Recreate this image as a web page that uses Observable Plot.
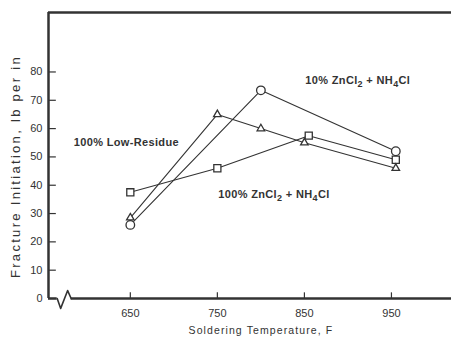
<!DOCTYPE html>
<html>
<head>
<meta charset="utf-8">
<script src="https://cdn.jsdelivr.net/npm/d3@7"></script>
<script src="https://cdn.jsdelivr.net/npm/@observablehq/plot@0.6"></script>
<style>
  body { margin: 0; background: #fff; }
  svg { font-family: "Liberation Sans", Arial, sans-serif; }
</style>
</head>
<body>
<div id="chart"></div>
<script>
// Series data (Soldering temperature F, fracture initiation lb per in)
const zn10Temp = [650, 800, 955];
const zn10Val = [26, 73.5, 52];
const zn100Temp = [650, 750, 855, 955];
const zn100Val = [37.5, 46, 57.5, 49];
const lowResTemp = [650, 750, 800, 850, 955];
const lowResVal = [28.5, 65, 60, 55, 46];

const xTicks = [650, 750, 850, 950];
const yTicks = [0, 10, 20, 30, 40, 50, 60, 70, 80];

const seriesLabels = ["10% ZnCl₂ + NH₄Cl", "100% Low-Residue", "100% ZnCl₂ + NH₄Cl"];
const labelX = [851, 585, 751];
const labelY = [77, 55, 36.7];

const xTitle = "Soldering Temperature, F";
const yTitle = "Fracture Initiation, lb per in";

const toRows = (t, v) => t.map((x, i) => ({x, y: v[i]}));
const zn10 = toRows(zn10Temp, zn10Val);
const zn100 = toRows(zn100Temp, zn100Val);
const lowRes = toRows(lowResTemp, lowResVal);
const labels = seriesLabels.map((s, i) => ({s, x: labelX[i], y: labelY[i]}));

const xDomain = [556, 1019];
const yDomain = [0, 101];
// axis break squiggle in data units
const breakPath = [{x: 566, y: 0}, {x: 570, y: -3.5}, {x: 578, y: 2.8}, {x: 582, y: 0}];

const ink = "#333";
const chart = Plot.plot({
  width: 451,
  height: 339,
  marginLeft: 48,
  marginRight: 0,
  marginTop: 12,
  marginBottom: 41,
  x: {domain: xDomain, ticks: xTicks},
  y: {domain: yDomain, ticks: yTicks},
  style: {fontSize: "11px", color: ink, background: "#fff"},
  marks: [
    Plot.axisY({ticks: yTicks, tickSize: 0, tickPadding: 6, label: null, fontSize: 11}),
    Plot.axisX({ticks: xTicks, tickSize: 0, tickPadding: 11, label: null, fontSize: 11}),
    // inward ticks
    Plot.ruleY(yTicks, {x1: xDomain[0], x2: xDomain[0] + 9, stroke: ink, strokeWidth: 1.2}),
    Plot.ruleX(xTicks, {y1: 0, y2: 2, stroke: ink, strokeWidth: 1.2}),
    // frame
    Plot.ruleY([yDomain[1]], {stroke: ink, strokeWidth: 2.5}),
    Plot.ruleX([xDomain[0]], {y1: 0, y2: yDomain[1], stroke: ink, strokeWidth: 2.5}),
    Plot.ruleY([0], {x1: 582, x2: xDomain[1], stroke: ink, strokeWidth: 2.5}),
    Plot.ruleY([0], {x1: xDomain[0], x2: 566, stroke: ink, strokeWidth: 2.5}),
    Plot.line(breakPath, {x: "x", y: "y", stroke: ink, strokeWidth: 1.6}),
    // series
    Plot.line(zn10, {x: "x", y: "y", stroke: ink, strokeWidth: 1.1}),
    Plot.line(zn100, {x: "x", y: "y", stroke: ink, strokeWidth: 1.1}),
    Plot.line(lowRes, {x: "x", y: "y", stroke: ink, strokeWidth: 1.1}),
    Plot.dot(zn10, {x: "x", y: "y", symbol: "circle", r: 4.3, fill: "#fff", stroke: ink, strokeWidth: 1.3}),
    Plot.dot(zn100, {x: "x", y: "y", symbol: "square", r: 4, fill: "#fff", stroke: ink, strokeWidth: 1.3}),
    Plot.dot(lowRes, {x: "x", y: "y", symbol: "triangle", r: 2.8, fill: "#fff", stroke: ink, strokeWidth: 1.3}),
    // labels
    Plot.text(labels, {x: "x", y: "y", text: "s", textAnchor: "start", fontSize: 11, fill: ink, fontWeight: 600, className: "sublabel"}),
    Plot.text([xTitle], {x: 800, frameAnchor: "bottom", dy: 35, fontSize: 10.5, fill: ink, className: "xtitle"}),
    Plot.text([yTitle], {y: 46.6, frameAnchor: "left", textAnchor: "middle", dx: -33, rotate: -90, fontSize: 13, fill: ink, className: "ytitle"})
  ]
});
document.getElementById("chart").appendChild(chart);

// letter spacing
d3.select(chart).selectAll(".xtitle text").attr("letter-spacing", "1.1px");
d3.select(chart).selectAll(".ytitle text").attr("letter-spacing", "2.3px");
d3.select(chart).selectAll(".sublabel text").attr("letter-spacing", "0.35px");

// render subscript digits as lowered tspans
const subMap = {"₂": "2", "₄": "4"};
d3.select(chart).selectAll(".sublabel text").each(function () {
  const el = d3.select(this);
  const str = el.text();
  el.text(null);
  let buf = "";
  let pendingDy = 0;
  const flush = () => {
    if (buf) {
      const t = el.append("tspan").text(buf);
      if (pendingDy) t.attr("dy", pendingDy);
      pendingDy = 0;
      buf = "";
    }
  };
  for (const ch of str) {
    if (subMap[ch]) {
      flush();
      el.append("tspan").attr("dy", 3 + pendingDy).attr("font-size", "9").text(subMap[ch]);
      pendingDy = -3;
    } else buf += ch;
  }
  flush();
});
</script>
</body>
</html>
